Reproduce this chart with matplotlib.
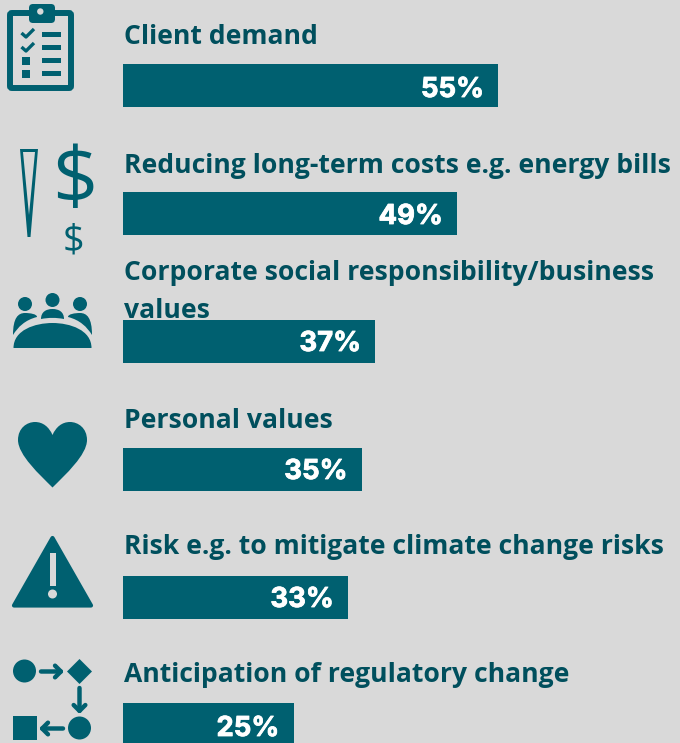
#!/usr/bin/env python
import matplotlib
matplotlib.use('Agg')
import matplotlib.pyplot as plt
import matplotlib.patheffects as pe
from matplotlib.patches import Circle, Polygon, Rectangle, PathPatch, FancyBboxPatch
from matplotlib.path import Path

labels = ['Client demand',
          'Reducing long-term costs e.g. energy bills',
          'Corporate social responsibility/business',
          'values',
          'Personal values',
          'Risk e.g. to mitigate climate change risks',
          'Anticipation of regulatory change']
values = [55, 49, 37, 35, 33, 25]

bg = '#d9d9d9'
teal = '#006070'
dark = '#004f5d'

# baselines in pixels from the top
label_y = [44.5, 173, 280, 318, 428, 554, 682]
value_y = [97, 224, 351, 479, 607, 736]
bar_y = [85.5, 213.5, 341, 469.5, 597, 724.5]

fig = plt.figure(figsize=(6.8, 7.43), dpi=100, facecolor=bg)

# icons and text go on a pixel axes
ax = fig.add_axes([0, 0, 1, 1])
ax.set_xlim(0, 680)
ax.set_ylim(743, 0)
ax.axis('off')

# bars on their own axes so the length comes from the value
axb = fig.add_axes([123/680, 0, 557/680, 1])
axb.set_xlim(0, 557/6.82)
axb.set_ylim(743, 0)
axb.axis('off')
axb.patch.set_alpha(0)
axb.barh(bar_y, values, height=43, color=teal, linewidth=0)

for v, y in zip(values, value_y):
    axb.text(v - 2.1, y, str(v) + '%', color='white', fontsize=19.8, fontweight='bold',
             family='Inter', ha='right', va='baseline',
             path_effects=[pe.withStroke(linewidth=0.6, foreground='white')])

for l, y in zip(labels, label_y):
    ax.text(123.5, y, l, color=dark, fontsize=19.1, fontweight='bold', family='Open Sans', va='baseline')


def rect(x0, y0, x1, y1, c=teal):
    ax.add_patch(Rectangle((x0, y0), x1-x0, y1-y0, facecolor=c, edgecolor='none'))


def curve(start, *pts):
    # closed shape out of cubic bezier segments
    verts = [start] + list(pts) + [start]
    codes = [Path.MOVETO] + [Path.CURVE4]*len(pts) + [Path.CLOSEPOLY]
    ax.add_patch(PathPatch(Path(verts, codes), fc=teal, ec='none'))


# clipboard
ax.add_patch(FancyBboxPatch((10, 13), 61, 75, boxstyle='round,pad=0,rounding_size=2', fc='none', ec=teal, lw=4.3))
ax.add_patch(FancyBboxPatch((29, 4), 26, 19, boxstyle='round,pad=0,rounding_size=4', fc=teal, ec='none'))
ax.add_patch(Circle((40.3, 11.5), 3.2, fc=bg, ec='none'))
for y in [34.5, 47.5, 60.5, 73]:
    rect(42, y-2.5, 61, y+2.5)
for y in [33, 47]:
    ax.plot([21.5, 26, 34], [y, y+4, y-4], color=teal, lw=2.4, solid_capstyle='butt')
rect(22, 57, 30, 65)
rect(22, 70, 30, 78)

# spike and dollars
ax.add_patch(Polygon([[20, 149], [38, 149], [30.5, 237], [27.5, 237]], closed=True, fc=teal, ec='none'))
ax.add_patch(Polygon([[23, 152], [35, 152], [29, 215]], closed=True, fc=bg, ec='none'))
ax.text(75, 184, '$', color=teal, fontsize=57, family='Open Sans', ha='center', va='center')
ax.text(73, 241, '$', color=teal, fontsize=27, family='Open Sans', ha='center', va='center')

# people round a table
for x, y in [(25, 304), (52.5, 300), (80, 304)]:
    ax.add_patch(Circle((x, y), 7, fc=teal, ec='none'))
curve((13.5, 348), (13.5, 330), (35, 323), (52.5, 323), (70, 323), (91.5, 330), (91.5, 348))
curve((13, 335), (13, 318), (18, 313), (25, 313), (30, 313), (37, 314), (37, 317), (25, 320), (18, 327), (13, 335))
curve((92, 335), (92, 318), (87, 313), (80, 313), (75, 313), (68, 314), (68, 317), (80, 320), (87, 327), (92, 335))
curve((41, 319), (41, 312), (46, 309), (52.5, 309), (59, 309), (64, 312), (64, 319), (56, 317.5), (49, 317.5), (41, 319))

# heart
curve((52.5, 487.5), (40, 475), (18, 455), (18, 440), (18, 428), (27, 422), (35, 422), (43, 422), (49, 427), (52.5, 435),
      (56, 427), (62, 422), (70, 422), (78, 422), (87, 428), (87, 440), (87, 455), (65, 475), (52.5, 487.5))

# warning triangle
ax.add_patch(Polygon([[52.5, 538], [91, 605.5], [14, 605.5]], closed=True, fc=teal, ec=teal, lw=3, joinstyle='round'))
rect(49.5, 553, 55.5, 586, c=bg)
ax.add_patch(Circle((52.5, 594), 4.5, fc=bg, ec='none'))

# flow icon
ax.add_patch(Circle((24.5, 671), 11.5, fc=teal, ec='none'))
ax.add_patch(Polygon([[79.5, 659], [92, 671.5], [79.5, 684], [67, 671.5]], closed=True, fc=teal, ec='none'))
ax.add_patch(Circle((79.5, 728), 11.5, fc=teal, ec='none'))
rect(13, 716, 37, 740)
kw = dict(arrowstyle='->,head_length=0.42,head_width=0.42', color=teal, lw=3.2, shrinkA=0, shrinkB=0)
ax.annotate('', xy=(64, 671.5), xytext=(41, 671.5), arrowprops=kw)
ax.annotate('', xy=(79.5, 714), xytext=(79.5, 688), arrowprops=kw)
ax.annotate('', xy=(39, 728.5), xytext=(63, 728.5), arrowprops=kw)

plt.savefig('out.png', dpi=100, facecolor=bg)
